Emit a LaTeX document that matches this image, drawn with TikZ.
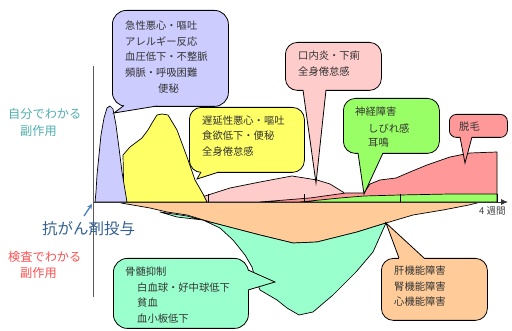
\documentclass[tikz,border=0pt]{standalone}
\usepackage{fontspec}
\setmainfont{Noto Sans CJK JP}
\usetikzlibrary{arrows.meta}
\definecolor{lav}{HTML}{CCCCFF}
\definecolor{yel}{HTML}{FFFF66}
\definecolor{pnk}{HTML}{FFCCCC}
\definecolor{grn}{HTML}{99FF66}
\definecolor{sal}{HTML}{FF9999}
\definecolor{org}{HTML}{FFCC99}
\definecolor{tea}{HTML}{99FFCC}
\definecolor{txtgray}{HTML}{333333}
\definecolor{lbltea}{RGB}{80,175,175}
\definecolor{lblred}{HTML}{FF5050}
\definecolor{lblblue}{HTML}{335F91}
\definecolor{arrblue}{HTML}{4F81BD}
\begin{document}
\begin{tikzpicture}[x=1pt,y=-1pt,
  shapeline/.style={draw=black, line width=0.7pt, line join=round},
  cbox/.style={draw=black, line width=0.8pt, rounded corners=12pt, anchor=north west, inner sep=0pt},
  tailline/.style={draw=black, line width=0.8pt, line join=miter},
  txt/.style={anchor=west, inner sep=0pt, text=txtgray, font=\fontsize{10.3}{12}\selectfont},
  lbl/.style={anchor=west, inner sep=0pt, font=\fontsize{12.2}{14}\selectfont}]
\useasboundingbox (0,0) rectangle (512,331);

% ---------- below axis ----------
\fill[org] (121,203) -- (150,208) -- (167,212) -- (187,215) -- (210,222) -- (233,228) -- (260,235) -- (293,243) -- (317,242) -- (357,232) -- (386,223) -- (413,215) -- (443,210) -- (469,205) -- (481,202) -- (121,202) -- cycle;
\draw[shapeline] (121,203) -- (150,208) -- (167,212) -- (187,215) -- (210,222) -- (233,228) -- (260,235) -- (293,243) -- (317,242) -- (357,232) -- (386,223) -- (413,215) -- (443,210) -- (469,205) -- (481,202);
\filldraw[tea, shapeline] (160,212) -- (187,216) -- (210,222) -- (233,228) -- (260,235) -- (293,243) -- (317,242) -- (357,232) -- (386,223) -- (373,252) -- (356,272) -- (333,295) -- (313,312) -- (299,315) -- (287,308) -- (277,300) -- (260,290) -- (255,278) -- (252,267) -- (245,255) -- (233,240) -- (220,228) -- (203,220) -- (177,217) -- cycle;

% ---------- above axis ----------
\filldraw[pnk, shapeline] (180,202) -- (205,196) -- (230,188) -- (260,182) -- (292,176) -- (317,180) -- (330,184) -- (343,192) -- (350,198) -- (350,202) -- cycle;
\filldraw[sal, shapeline] (260,202) -- (310,198) -- (346,193) -- (364,193) -- (370,184) -- (380,180) -- (396,178) -- (410,172) -- (427,165) -- (450,157) -- (470,153) -- (497,152) -- (497,202) -- cycle;
\filldraw[grn, shapeline] (300,202) -- (340,198) -- (364,196) -- (400,195) -- (450,194) -- (497,194) -- (497,202) -- cycle;
\filldraw[yel, shapeline] (124,202) -- (123,155) -- (130,147) -- (142,138) -- (148,130) -- (152,123) -- (157,115) -- (162,114) -- (168,115) -- (177,130) -- (187,157) -- (195,180) -- (203,194) -- (207,202) -- cycle;
\filldraw[lav, shapeline] (95,202) -- (96,192) -- (97,175) -- (99,155) -- (101,135) -- (104,118) -- (107,108) -- (110,106) -- (113,109) -- (116,125) -- (119,148) -- (122,172) -- (125,190) -- (127,202) -- cycle;

% ---------- axes ----------
\coordinate (ax0) at (93,202);
\coordinate (ax1) at (508,202);
\coordinate (vy0) at (93,66);
\coordinate (vy1) at (93,297);
\draw[black!80, line width=0.8pt, -{Latex[length=7pt,width=6pt]}] (ax0) -- (ax1);
\draw[black!65, line width=0.9pt] (vy0) -- (vy1);
\foreach \tx in {208,304,400,497} \draw[black, line width=0.7pt] (\tx,194) -- (\tx,202);
\node[anchor=west, inner sep=0pt, text=black!75, font=\fontsize{9.5}{11}\selectfont] (wk) at (479,211) {4 週間};

% ---------- callout 1 (lavender) ----------
\node[cbox, fill=lav, minimum width=116pt, minimum height=96pt, rounded corners=14pt] (bx1) at (112,10) {};
\fill[lav] (124,103) -- (124,105.5) -- (114,113) -- (157,106) -- (157,103) -- cycle;
\draw[tailline] (124,105.5) -- (114,113) -- (157,106);
\node[txt] (t1a) at (125,26) {急性悪心・嘔吐};
\node[txt] (t1b) at (125,42) {アレルギー反応};
\node[txt] (t1c) at (125,57) {血圧低下・不整脈};
\node[txt] (t1d) at (125,73) {頻脈・呼吸困難};
\node[txt] (t1e) at (158,89) {便秘};

% ---------- callout 2 (yellow) ----------
\node[cbox, fill=yel, minimum width=115pt, minimum height=65pt] (bx2) at (189,107) {};
\fill[yel] (201,169) -- (201,172) -- (197,179) -- (219,172) -- (219,169) -- cycle;
\draw[tailline] (201,172) -- (197,179) -- (219,172);
\node[txt] (t2a) at (202,121) {遅延性悪心・嘔吐};
\node[txt] (t2b) at (202,136) {食欲低下・便秘};
\node[txt] (t2c) at (202,152) {全身倦怠感};

% ---------- callout 3 (pink) ----------
\node[cbox, fill=pnk, minimum width=96pt, minimum height=48pt] (bx3) at (285,42) {};
\fill[pnk] (303,87) -- (303,90) -- (316,183) -- (326,90) -- (326,87) -- cycle;
\draw[tailline] (303,90) -- (316,183) -- (326,90);
\node[txt] (t3a) at (298,56) {口内炎・下痢};
\node[txt] (t3b) at (298,72) {全身倦怠感};

% ---------- callout 4 (green) ----------
\node[cbox, fill=grn, minimum width=96pt, minimum height=55pt] (bx4) at (343,98) {};
\fill[grn] (358,150) -- (358,153) -- (364,194) -- (383,153) -- (383,150) -- cycle;
\draw[tailline] (358,153) -- (364,194) -- (383,153);
\node[txt] (t4a) at (355,112) {神経障害};
\node[txt] (t4b) at (368,128) {しびれ感};
\node[txt] (t4c) at (368,143) {耳鳴};

% ---------- callout 5 (salmon) ----------
\node[cbox, fill=sal, minimum width=58pt, minimum height=23pt, rounded corners=7pt] (bx5) at (449,114) {};
\fill[sal] (460,134) -- (460,137) -- (465,163) -- (472,137) -- (472,134) -- cycle;
\draw[tailline] (460,137) -- (465,163) -- (472,137);
\node[txt] (t5a) at (459,127) {脱毛};

% ---------- callout 6 (teal) ----------
\node[cbox, fill=tea, minimum width=135pt, minimum height=70pt, rounded corners=14pt] (bx6) at (113,258) {};
\fill[tea] (245,270) -- (248,270) -- (275,282) -- (248,290) -- (245,290) -- cycle;
\draw[tailline] (248,270) -- (275,282) -- (248,290);
\node[txt] (t6a) at (125,272) {骨髄抑制};
\node[txt] (t6b) at (137,288) {白血球・好中球低下};
\node[txt] (t6c) at (137,303) {貧血};
\node[txt] (t6d) at (137,319) {血小板低下};

% ---------- callout 7 (orange) ----------
\node[cbox, fill=org, minimum width=106pt, minimum height=62pt] (bx7) at (381,258) {};
\fill[org] (399,261) -- (399,258) -- (386,223) -- (424,258) -- (424,261) -- cycle;
\draw[tailline] (399,258) -- (386,223) -- (424,258);
\node[txt] (t7a) at (394,271) {肝機能障害};
\node[txt] (t7b) at (394,287) {腎機能障害};
\node[txt] (t7c) at (394,302) {心機能障害};

% ---------- left labels ----------
\node[lbl, text=lbltea] (l1a) at (8,114) {自分でわかる};
\node[lbl, text=lbltea] (l1b) at (20,131) {副作用};
\node[lbl, text=lblred] (l2a) at (8,257) {検査でわかる};
\node[lbl, text=lblred] (l2b) at (20,273) {副作用};
\node[anchor=west, inner sep=0pt, text=lblblue, font=\fontsize{15.5}{18}\selectfont] (drug) at (42,229) {抗がん剤投与};
\coordinate (arr0) at (84,216);
\coordinate (arr1) at (92,204);
\draw[arrblue, line width=1.3pt, -{Stealth[length=5pt,width=5pt]}] (arr0) -- (arr1);
\end{tikzpicture}
\end{document}
